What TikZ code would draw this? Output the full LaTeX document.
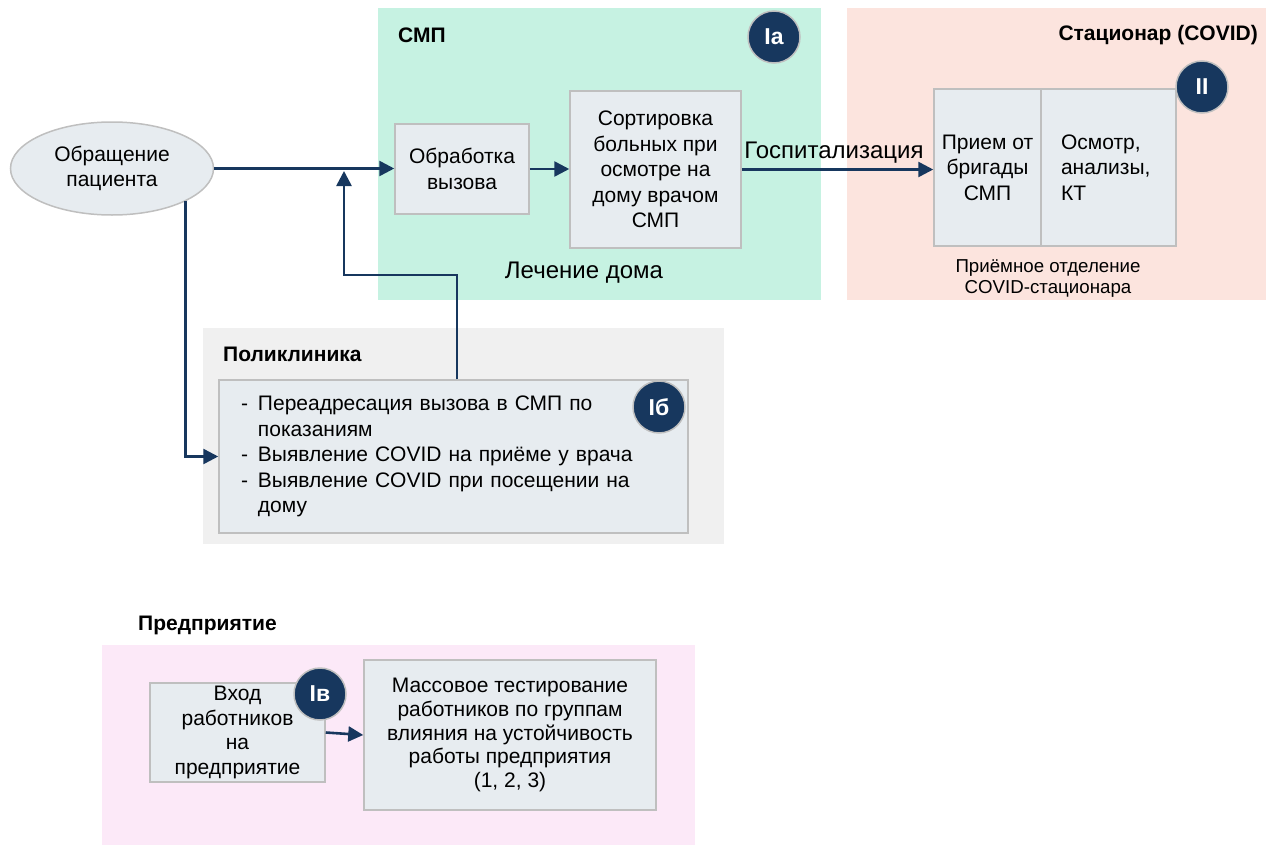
\documentclass[tikz,border=0pt]{standalone}
\usepackage{fontspec}
\setmainfont{Liberation Sans}
\usetikzlibrary{arrows.meta,shapes.geometric,calc}
\definecolor{navy}{HTML}{17375E}
\definecolor{boxfill}{HTML}{E7ECF0}
\definecolor{boxline}{HTML}{BFBFBF}
\definecolor{smpbg}{HTML}{C6F2E2}
\definecolor{stbg}{HTML}{FCE4DE}
\definecolor{polbg}{HTML}{F0F0F0}
\definecolor{entbg}{HTML}{FCE9F8}
\tikzset{
 procbox/.style={draw=boxline, fill=boxfill, line width=1.5pt, align=center, font=\fontsize{21}{25.5}\selectfont, inner sep=0pt},
 arr/.style={draw=navy, line width=2.6pt, -{Triangle[length=15pt,width=15pt]}},
 badge/.style={circle, fill=navy, draw=boxline, line width=1.5pt, minimum size=52pt, inner sep=0pt, text=white, font=\fontsize{23}{23}\selectfont\bfseries},
 titletext/.style={font=\fontsize{21}{25}\selectfont\bfseries, inner sep=0pt},
 bigtext/.style={font=\fontsize{24}{28}\selectfont, inner sep=0pt},
 smalltext/.style={font=\fontsize{18.7}{21}\selectfont, inner sep=0pt, align=center},
}
\begin{document}
\begin{tikzpicture}[x=1pt,y=-1pt]
\useasboundingbox (0,0) rectangle (1266,846);
% backgrounds
\fill[smpbg] (378,8) rectangle (821,300);
\fill[stbg] (847,8) rectangle (1266,300);
\fill[polbg] (203,328) rectangle (724,544);
\fill[entbg] (102,645) rectangle (695,845);
% titles
\node[titletext, anchor=base west] (smpt) at (398,42) {СМП};
\node[titletext, anchor=base east] (stt) at (1258,40) {Стационар (COVID)};
\node[titletext, anchor=base west] (polt) at (223,361) {Поликлиника};
\node[titletext, anchor=base west] (entt) at (138,630) {Предприятие};
% nodes
\node[ellipse, draw=boxline, fill=boxfill, line width=1.5pt, minimum width=203pt, minimum height=93pt, inner sep=0pt, align=center, font=\fontsize{21}{25.5}\selectfont] (ell) at (112,168.5) {Обращение\\пациента};
\node[procbox, minimum width=134pt, minimum height=90pt] (obr) at (462,169) {Обработка\\вызова};
\node[procbox, minimum width=171pt, minimum height=157pt] (sort) at (655.5,169.5) {Сортировка\\больных при\\осмотре на\\дому врачом\\СМП};
\node[procbox, minimum width=107pt, minimum height=157pt] (priem) at (987.5,167.5) {Прием от\\бригады\\СМП};
\node[procbox, minimum width=135pt, minimum height=157pt, text width=95pt, inner xsep=20pt, align=left] (osm) at (1108.5,167.5) {Осмотр,\\анализы,\\КТ};
\node[procbox, minimum width=469pt, minimum height=153pt, text width=425pt, inner xsep=22pt, align=left] (poly) at (453.5,456.5) {\begin{tabular}{@{}l@{\hspace{10pt}}l@{}}-&Переадресация вызова в СМП по\\&показаниям\\-&Выявление COVID на приёме у врача\\-&Выявление COVID при посещении на\\&дому\end{tabular}};
\node[procbox, minimum width=175pt, minimum height=99pt, font=\fontsize{21}{24.5}\selectfont] (vhod) at (237.5,732.5) {Вход\\работников\\на\\предприятие};
\node[procbox, minimum width=292pt, minimum height=150pt, font=\fontsize{21}{23.7}\selectfont] (mass) at (510,735) {Массовое тестирование\\работников по группам\\влияния на устойчивость\\работы предприятия\\(1, 2, 3)};
% free texts
\node[bigtext, anchor=base] (lech) at (584,278) {Лечение дома};
\node[bigtext, anchor=base] (gosp) at (834,158) {Госпитализация};
\node[smalltext, anchor=base] (priemot) at (1048,272) {Приёмное отделение};
\node[smalltext, anchor=base] (covst) at (1048,293) {COVID-стационара};
% badges
\node[badge] (bIa) at (774,37) {Ia};
\node[badge] (bII) at (1202,87) {II};
\node[badge] (bIb) at (659,407) {Iб};
\node[badge] (bIv) at (320,694) {Iв};
% connectors
\coordinate (jn) at (344,171);
\coordinate (fb) at (457,275);
\draw[arr] (ell.east) -- (ell.east -| obr.west);
\draw[arr] (fb |- poly.north) -- (fb) -| (jn);
\draw[arr] (ell.-24.5) |- (poly.west);
\draw[arr] (obr.east) -- (obr.east -| sort.west);
\draw[arr] (sort.east) -- (sort.east -| priem.west);
\draw[arr] (vhod.east) -- (mass.west);
\end{tikzpicture}
\end{document}
